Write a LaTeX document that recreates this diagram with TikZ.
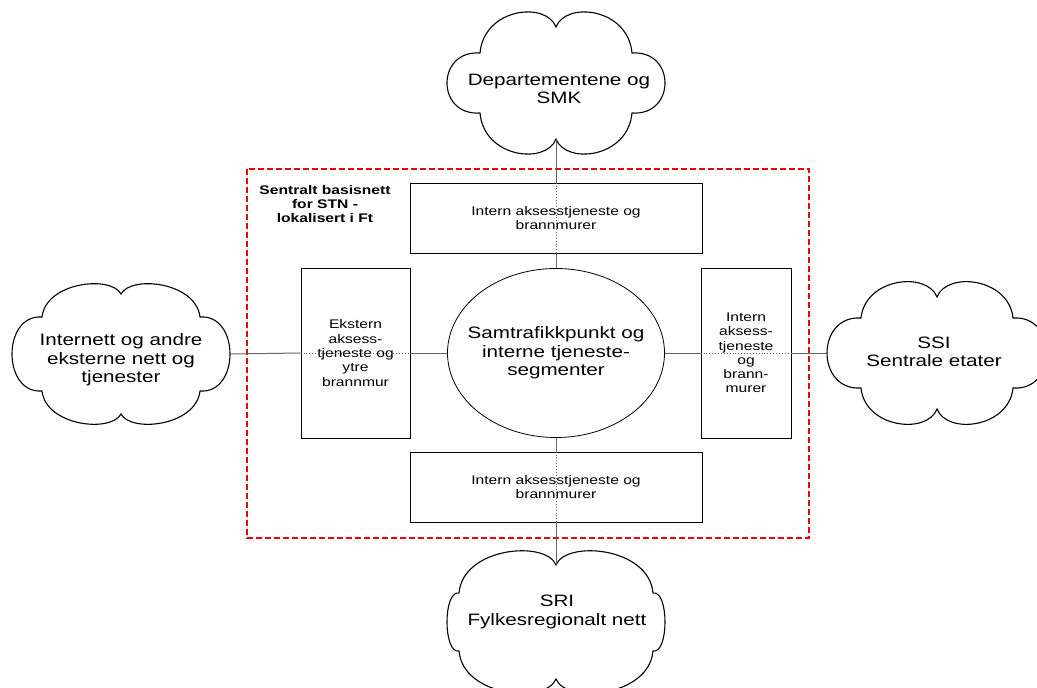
\documentclass[tikz,border=0pt]{standalone}
\usepackage{fontspec}
\setmainfont{Liberation Sans}[FakeStretch=1.25]
\usetikzlibrary{shapes.geometric,shadows}
\definecolor{regionred}{RGB}{240,0,0}
\definecolor{wire}{RGB}{100,100,100}
% #1 name, #2 centre, #3 half width, #4 half height, #5 corner x, #6 corner y, #7 cusp y
\newcommand\cloudoutline[7]{%
  \begin{scope}[shift={#2}]
    \draw[cloudline]
      (0,-#7) .. controls (10,{-(#4+11)}) and ({#5-4},{-(#4+4)}) .. (#5,-#6)
      .. controls ({(8*#3-2*#5)/6},{-(#6+3)}) and ({(8*#3-2*#5)/6},{#6+3}) .. (#5,#6)
      .. controls ({#5-4},{#4+4}) and (10,{#4+11}) .. (0,#7)
      .. controls (-10,{#4+11}) and ({-(#5-4)},{#4+4}) .. (-#5,#6)
      .. controls ({-(8*#3-2*#5)/6},{#6+3}) and ({-(8*#3-2*#5)/6},{-(#6+3)}) .. (-#5,-#6)
      .. controls ({-(#5-4)},{-(#4+4)}) and (-10,{-(#4+11)}) .. (0,-#7) -- cycle;
    \coordinate (#1-n) at (0,-#7);
    \coordinate (#1-s) at (0,#7);
    \coordinate (#1-w) at (-#3,0);
    \coordinate (#1-e) at (#3,0);
  \end{scope}}
\tikzset{
  cloudline/.style={draw=black, line width=1.1pt, fill=white},
  bigtext/.style={align=center, inner sep=0pt, font=\fontsize{16.5}{18.3}\selectfont},
  boxbase/.style={draw=black, line width=0.8pt, fill=white, inner sep=0pt, align=center,
    font=\fontsize{12.5}{14.3}\selectfont,
    drop shadow={shadow xshift=1.2pt, shadow yshift=-1.2pt, fill=black!55, opacity=1}},
  conn/.style={draw=wire, line width=1pt},
  dotconn/.style={draw=wire, line width=0.9pt, dotted},
  region/.style={draw=regionred, line width=1.1pt, dash pattern=on 6pt off 3pt},
}
\begin{document}
\begin{tikzpicture}[x=1pt, y=-1pt]
\useasboundingbox (0,0) rectangle (1037,688);

% dashed region
\draw[region] (247,169) rectangle (809,538);
\node[align=center, inner sep=0pt, font=\fontsize{12.5}{14.2}\selectfont\bfseries] (lbl) at (325,204)
  {Sentralt basisnett\\for STN -\\lokalisert i Ft};

% clouds
\cloudoutline{depc}{(556,83)}{109}{71}{76}{30}{56}
\cloudoutline{inetc}{(121,354)}{109}{68}{79}{37}{60}
\cloudoutline{ssic}{(937,353)}{110}{71}{76}{35}{56}
\cloudoutline{sric}{(556,622)}{109}{71}{97}{29}{57}
\node[bigtext] (dep) at (559,89) {Departementene og\\SMK};
\node[bigtext] (inet) at (121,360) {Internett og andre\\eksterne nett og\\tjenester};
\node[bigtext] (ssi) at (934,352) {SSI\\Sentrale etater};
\node[bigtext] (sri) at (557,612) {SRI\\Fylkesregionalt nett};

% boxes
\node[boxbase, minimum width=292pt, minimum height=70pt] (tbox) at (556,218)
  {Intern aksesstjeneste og\\brannmurer};
\node[boxbase, minimum width=292pt, minimum height=70pt] (bbox) at (556,487)
  {Intern aksesstjeneste og\\brannmurer};
\node[boxbase, minimum width=109pt, minimum height=170pt] (lbox) at (355.5,353)
  {Ekstern\\aksess-\\tjeneste og\\ytre\\brannmur};
\node[boxbase, minimum width=90pt, minimum height=170pt] (rbox) at (746,353)
  {Intern\\aksess-\\tjeneste\\og\\brann-\\murer};

% centre ellipse
\node[ellipse, draw=black, line width=0.8pt, minimum width=217pt, minimum height=169pt, inner sep=0pt] (core) at (556,353) {};
\node[bigtext] (coretxt) at (556,353) {Samtrafikkpunkt og\\interne tjeneste-\\segmenter};

% connectors
\draw[conn] (inetc-e) -- (lbox.west);
\draw[dotconn] (lbox.west) -- (lbox.east);
\draw[conn] (lbox.east) -- (core.west);
\draw[conn] (core.east) -- (rbox.west);
\draw[dotconn] (rbox.west) -- (rbox.east);
\draw[conn] (rbox.east) -- (ssic-w);
\draw[conn] (depc-s) -- (tbox.north);
\draw[dotconn] (tbox.north) -- (tbox.south);
\draw[conn] (tbox.south) -- (core.north);
\draw[conn] (core.south) -- (bbox.north);
\draw[dotconn] (bbox.north) -- (bbox.south);
\draw[conn] (bbox.south) -- (sric-n);
\end{tikzpicture}
\end{document}
